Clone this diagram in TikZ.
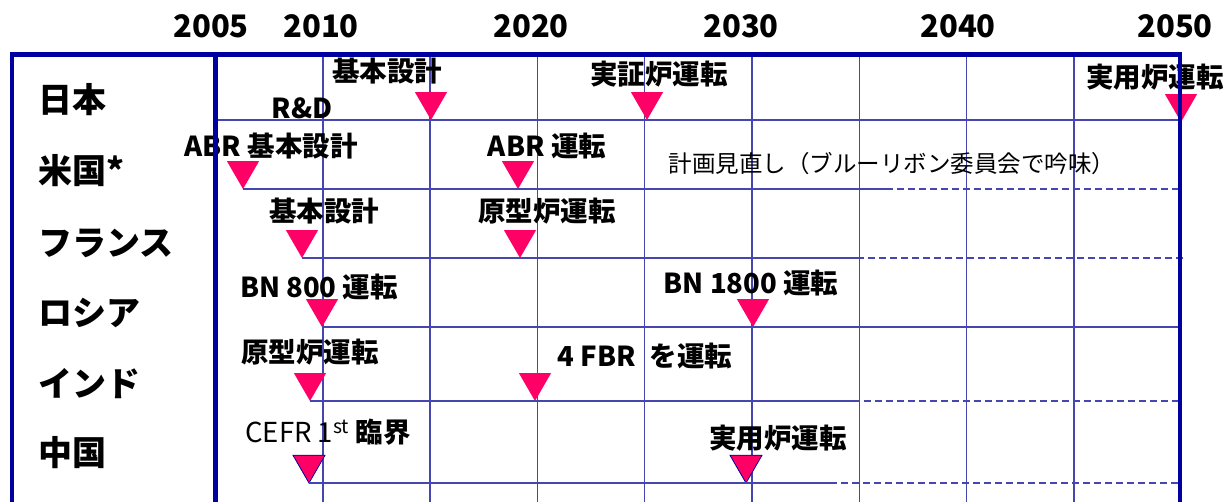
\documentclass[tikz,border=0pt]{standalone}
\usepackage{fontspec}
\setmainfont{Noto Sans CJK JP}
\usetikzlibrary{shapes.geometric}
\definecolor{frameblue}{RGB}{0,0,160}
\definecolor{gridblue}{RGB}{70,70,175}
\definecolor{mark}{RGB}{255,0,102}

\begin{document}
\begin{tikzpicture}[x=1pt,y=-1pt,
    gl/.style={gridblue,line width=1.5pt},%
    dl/.style={gridblue,line width=1.7pt,dash pattern=on 7pt off 4pt},%
    fr/.style={frameblue,line width=4.5pt},%
    mk/.style={regular polygon,regular polygon sides=3,shape border rotate=180,fill=mark,
      minimum size=37pt,inner sep=0pt,outer sep=0pt,anchor=corner 1},%
    cty/.style={font=\fontsize{34}{37}\selectfont\bfseries,anchor=west,inner sep=0pt},%
    lab/.style={font=\fontsize{27.5}{30}\selectfont\bfseries,inner sep=0pt},%
    yr/.style={font=\fontsize{31}{34}\selectfont\bfseries,inner sep=0pt}]
    \useasboundingbox (0,0) rectangle (1227,502);

    % years
    \node[yr] (y2005) at (211,26) {2005};
    \node[yr] (y2010) at (321,26) {2010};
    \node[yr] (y2020) at (531,26) {2020};
    \node[yr] (y2030) at (741,26) {2030};
    \node[yr] (y2040) at (958,26) {2040};
    \node[yr] (y2050) at (1175,26) {2050};

    % grid
    \foreach \k in {1,...,8}
      \draw[gl] ({215.5+107.3*\k},54.5) -- ({215.5+107.3*\k},502);
    \draw[gl] (215.5,120) -- (1180,120);

    % countries
    \node[cty] (jp) at (38,100) {日本};
    \node[cty] (us) at (38,171) {米国*};
    \node[cty] (fr) at (38,243) {フランス};
    \node[cty] (ru) at (38,313) {ロシア};
    \node[cty] (in) at (38,384) {インド};
    \node[cty] (cn) at (38,453) {中国};

    % Japan
    \node[mk] (jpA) at (431,120) {};
    \node[mk] (jpB) at (647,120) {};
    \node[mk] (jpC) at (1181,122) {};
    \node[lab] (jpRD) at (302,108) {R\&D};
    \node[lab] (jpLA) at (387,71) {基本設計};
    \node[lab] (jpLB) at (659,74) {実証炉運転};
    \node[lab] (jpLC) at (1155,77) {実用炉運転};

    % USA
    \node[mk] (usA) at (243,189) {};
    \node[mk] (usB) at (518,189) {};
    \coordinate (usD) at (886,189);
    \coordinate (usE) at (1178,189);
    \draw[gl] (usA.corner 1) -- (usD);
    \draw[dl] (usD) -- (usE);
    \node[lab] (usLA) at (271,146) {ABR 基本設計};
    \node[lab] (usLB) at (547,146) {ABR 運転};
    \node[font=\fontsize{23.5}{26}\selectfont,inner sep=0pt] (usN) at (892,164) {計画見直し（ブルーリボン委員会で吟味）};

    % France
    \node[mk] (frA) at (302,258) {};
    \node[mk] (frB) at (520,258) {};
    \coordinate (frD) at (857,258);
    \coordinate (frE) at (1183,258);
    \draw[gl] (frA.corner 1) -- (frD);
    \draw[dl] (frD) -- (frE);
    \node[lab] (frLA) at (324,211) {基本設計};
    \node[lab] (frLB) at (547,211) {原型炉運転};

    % Russia
    \node[mk] (ruA) at (322,327) {};
    \node[mk] (ruB) at (753,327) {};
    \coordinate (ruE) at (1181,327);
    \draw[gl] (ruA.corner 1) -- (ruE);
    \node[lab] (ruLA) at (319,287) {BN 800 運転};
    \node[lab] (ruLB) at (751,283) {BN 1800 運転};

    % India
    \node[mk] (inA) at (310,401) {};
    \node[mk] (inB) at (535,401) {};
    \coordinate (inD) at (853,401);
    \coordinate (inE) at (1180,401);
    \draw[gl] (inA.corner 1) -- (inD);
    \draw[dl] (inD) -- (inE);
    \node[lab] (inLA) at (310,352) {原型炉運転};
    \node[lab] (inLB) at (645,356) {4 FBR\hspace{0.5em}を運転};

    % China
    \node[mk,draw=frameblue,line width=0.8pt] (cnA) at (309,483) {};
    \node[mk,draw=frameblue,line width=0.8pt] (cnB) at (746,483) {};
    \coordinate (cnD) at (830,483);
    \coordinate (cnE) at (1180,483);
    \draw[gl] (cnA.corner 1) -- (cnD);
    \draw[dl] (cnD) -- (cnE);
    \node[lab] (cnLA) at (328,432) {{\mdseries CEFR 1\textsuperscript{st}} 臨界};
    \node[lab] (cnLB) at (778,438) {実用炉運転};

    % frame
    \draw[fr] (12,502) -- (12,54.5) -- (1180,54.5) -- (1180,502);
    \draw[fr] (215.5,54.5) -- (215.5,502);
\end{tikzpicture}
\end{document}
